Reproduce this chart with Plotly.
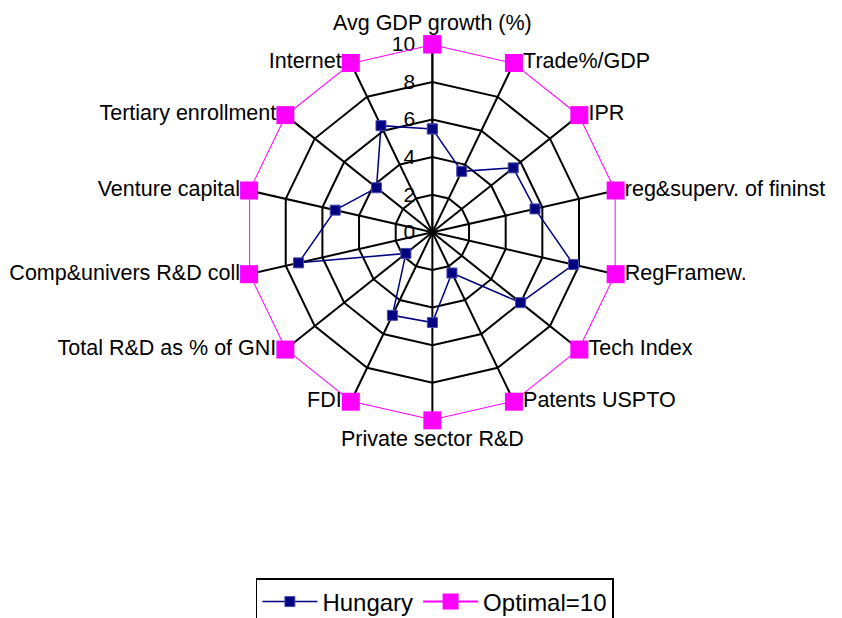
import plotly.graph_objects as go

categories = [
    "Avg GDP growth (%)", "Trade%/GDP", "IPR", "reg&superv. of fininst",
    "RegFramew.", "Tech Index", "Patents USPTO", "Private sector R&D",
    "FDI", "Total R&D as % of GNI", "Comp&univers R&D coll",
    "Venture capital", "Tertiary enrollment", "Internet",
]
hungary = [5.5, 3.6, 5.5, 5.6, 7.7, 6.0, 2.4, 4.8, 4.9, 1.8, 7.3, 5.3, 3.8, 6.3]
optimal = [10] * len(categories)

# category labels sit next to the outer markers, Excel-style
label_pos = [
    "top center", "middle right", "middle right", "middle right",
    "middle right", "middle right", "middle right", "bottom center",
    "middle left", "middle left", "middle left", "middle left",
    "middle left", "middle left",
]

fig = go.Figure()

# close the polygons by repeating the first point
fig.add_trace(go.Scatterpolar(
    r=hungary + hungary[:1],
    theta=categories + categories[:1],
    mode="lines+markers",
    name="Hungary",
    line=dict(color="#000080", width=1.5),
    marker=dict(symbol="square", size=10, color="#000080",
                line=dict(color="#4a4ab0", width=1)),
))
fig.add_trace(go.Scatterpolar(
    r=optimal + optimal[:1],
    theta=categories + categories[:1],
    mode="lines+markers",
    name="Optimal=10",
    line=dict(color="#FF00FF", width=2),
    marker=dict(symbol="square", size=18, color="#FF00FF"),
))
# invisible markers only used to carry the category labels
fig.add_trace(go.Scatterpolar(
    r=optimal,
    theta=categories,
    mode="markers+text",
    text=categories,
    textposition=label_pos,
    textfont=dict(size=21.5, color="black"),
    marker=dict(symbol="square", size=13, color="rgba(0,0,0,0)"),
    showlegend=False,
    hoverinfo="skip",
    cliponaxis=False,
))

fig.update_layout(
    width=842, height=618,
    margin=dict(l=0, r=0, t=0, b=0),
    paper_bgcolor="white",
    font=dict(family="Liberation Sans, Arial", size=22, color="black"),
    polar=dict(
        domain=dict(x=[0.2807, 0.7273], y=[0.3328, 0.9412]),
        bgcolor="white",
        gridshape="linear",
        radialaxis=dict(
            range=[0, 10], tickvals=[0, 2, 4, 6, 8, 10],
            angle=90, side="counterclockwise", tickangle=90,
            showline=True, linecolor="black", linewidth=1.8,
            gridcolor="black", gridwidth=1.8, layer="below traces",
            ticks="outside", ticklen=9, tickcolor="rgba(0,0,0,0)",
            tickfont=dict(size=21),
        ),
        angularaxis=dict(
            direction="clockwise", rotation=90,
            showline=False, showticklabels=False,
            gridcolor="black", gridwidth=1.8, layer="below traces",
            ticks="",
        ),
    ),
    legend=dict(
        orientation="h", x=0.507, xanchor="center", y=0.0, yanchor="bottom",
        bordercolor="black", borderwidth=1.5, font=dict(size=24),
        itemwidth=55,
    ),
)

fig.write_html("out.html")
